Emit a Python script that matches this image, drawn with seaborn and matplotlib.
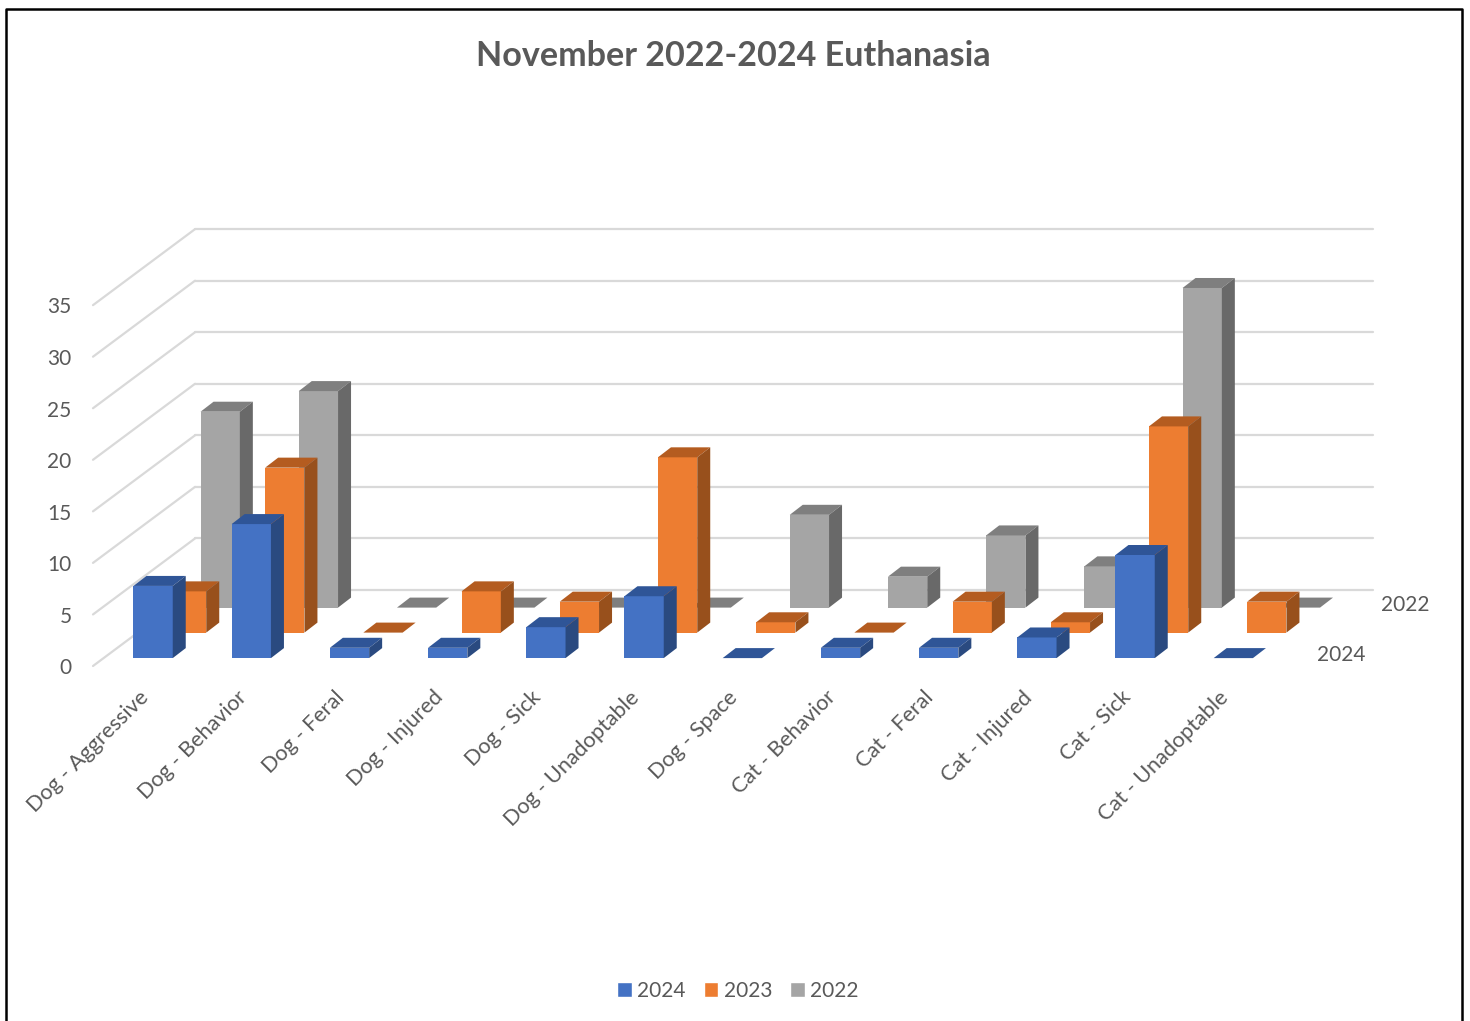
import matplotlib
matplotlib.use("Agg")
import matplotlib.pyplot as plt
import seaborn as sns
from matplotlib.lines import Line2D
from matplotlib.patches import ConnectionPatch, Patch, Polygon
from matplotlib.transforms import ScaledTranslation

categories = ["Dog - Aggressive", "Dog - Behavior", "Dog - Feral", "Dog - Injured",
              "Dog - Sick", "Dog - Unadoptable", "Dog - Space", "Cat - Behavior",
              "Cat - Feral", "Cat - Injured", "Cat - Sick", "Cat - Unadoptable"]
values_2024 = [7, 13, 1, 1, 3, 6, 0, 1, 1, 2, 10, 0]
values_2023 = [4, 16, 0, 4, 3, 17, 1, 0, 3, 1, 20, 3]
values_2022 = [19, 21, 0, 0, 0, 0, 9, 3, 7, 4, 31, 0]
y_ticks = [0, 5, 10, 15, 20, 25, 30, 35]

W, H = 1470, 1021
TEXT = "#595959"
GRID = "#D9D9D9"
STEP = 98.2      # px between categories
UNIT = 10.31     # px per value unit
YMAX = 35
DEPTH_X, DEPTH_Y = 13, 10  # 3d look of each bar

sns.set_theme(style="white")
plt.rcParams["font.family"] = ["Lato", "DejaVu Sans"]
plt.rcParams["text.color"] = TEXT

fig = plt.figure(figsize=(W / 100, H / 100), dpi=100, facecolor="white")


def px_axes(left, bottom, width, height):
    # axes placed with pixel numbers measured from the top left
    ax = fig.add_axes([left / W, 1 - bottom / H, width / W, height / H])
    ax.patch.set_visible(False)
    sns.despine(ax=ax, left=True, bottom=True)
    return ax


def shift_labels(labels, dx, dy):
    # move tick labels by a few px, dy positive is up
    for label in labels:
        label.set_transform(label.get_transform() + ScaledTranslation(dx / 100, dy / 100, fig.dpi_scale_trans))


# back wall with the gridlines
wall = px_axes(195, 590, 1178, YMAX * UNIT)
wall.set_xlim(0, 1)
wall.set_ylim(0, YMAX)
wall.set_xticks([])
wall.set_yticks(y_ticks)
wall.set_yticklabels([])
wall.tick_params(length=0)
wall.grid(axis="y", color=GRID, lw=1.6)
wall.set_axisbelow(True)
for line in wall.get_ygridlines():
    line.set_clip_on(False)

# left edge of the floor, carries the value labels
front = px_axes(93, 666, 1, YMAX * UNIT)
front.set_xlim(0, 1)
front.set_ylim(0, YMAX)
front.set_xticks([])
front.set_yticks(y_ticks)
front.tick_params(length=0, pad=15.5, labelsize=15, labelcolor=TEXT)
shift_labels(front.get_yticklabels(), 0, -0.3)

# floor lines go on the wall axes so the bars cover them
for v in y_ticks:
    wall.add_artist(ConnectionPatch((0, v), (0, v), "data", "data", axesA=front, axesB=wall,
                                    color=GRID, lw=1.6, clip_on=False))


def draw_series(values, color, top_color, side_color, center_x, base_y):
    ax = px_axes(center_x - STEP / 2, base_y, STEP * len(categories), YMAX * UNIT)
    sns.barplot(x=categories, y=values, color=color, saturation=1, width=0.4, linewidth=0, ax=ax)
    ax.set_xlim(-0.5, len(categories) - 0.5)
    ax.set_ylim(0, YMAX)
    ax.set_yticks([])
    ax.set_xticks([])
    dx, dy = DEPTH_X / STEP, DEPTH_Y / UNIT
    for bar in ax.patches:
        x0, x1, h = bar.get_x(), bar.get_x() + bar.get_width(), bar.get_height()
        ax.add_patch(Polygon([(x0, h), (x1, h), (x1 + dx, h + dy), (x0 + dx, h + dy)],
                             fc=top_color, ec="none", clip_on=False))
        if h > 0:
            ax.add_patch(Polygon([(x1, 0), (x1 + dx, dy), (x1 + dx, h + dy), (x1, h)],
                                 fc=side_color, ec="none", clip_on=False))
    return ax


draw_series(values_2022, "#A5A5A5", "#7F7F7F", "#696969", 220.2, 607.6)
draw_series(values_2023, "#ED7D31", "#B45C20", "#98501C", 186.6, 632.6)
ax = draw_series(values_2024, "#4472C4", "#2F5597", "#2A4A80", 153.1, 658.1)

ax.set_xticks(range(len(categories)))
ax.set_xticklabels(categories, rotation=45, ha="right", va="top", rotation_mode="anchor",
                   fontsize=15.6, color=TEXT)
ax.tick_params(axis="x", length=0, pad=21)
shift_labels(ax.get_xticklabels(), -15, 0)

fig.text(733.5 / W, 1 - 56 / H, "November 2022-2024 Euthanasia", ha="center", va="center",
         fontsize=24.6, fontweight="bold", color=TEXT)
fig.text(1405.5 / W, 1 - 605 / H, "2022", ha="center", va="center", fontsize=15)
fig.text(1341 / W, 1 - 655 / H, "2024", ha="center", va="center", fontsize=15)

handles = [Patch(fc="#4472C4", label="2024"), Patch(fc="#ED7D31", label="2023"),
           Patch(fc="#A5A5A5", label="2022")]
fig.legend(handles=handles, ncol=3, loc="center", bbox_to_anchor=(738 / W, 1 - 991 / H),
           frameon=False, fontsize=15, handlelength=0.7, handleheight=0.7,
           handletextpad=0.25, columnspacing=0.87, labelcolor=TEXT)

# black frame of the screenshot, cut off at the bottom
fig.add_artist(Line2D([6 / W, 6 / W, 1462 / W, 1462 / W],
                      [0, 1 - 9 / H, 1 - 9 / H, 0], color="black", lw=1.8))

fig.savefig("out.png", dpi=100)
